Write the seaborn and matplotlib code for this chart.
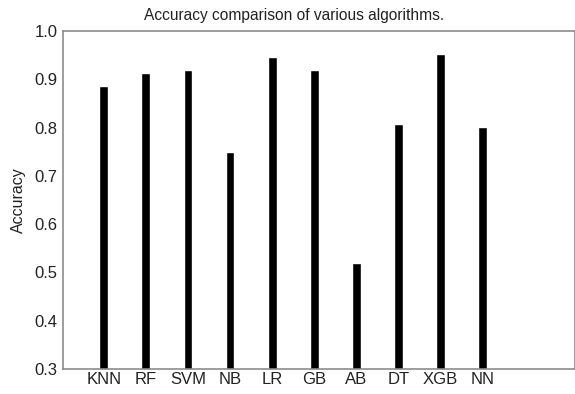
import matplotlib
matplotlib.use("Agg")
import matplotlib.pyplot as plt
import seaborn as sns
import pandas as pd

# Model accuracies
algorithms = ["KNN", "RF", "SVM", "NB", "LR", "GB", "AB", "DT", "XGB", "NN"]
accuracy = [0.887, 0.914, 0.919, 0.749, 0.947, 0.919, 0.520, 0.807, 0.952, 0.801]
y_ticks = [0.3, 0.4, 0.5, 0.6, 0.7, 0.8, 0.9, 1.0]

df = pd.DataFrame({"Algorithm": algorithms, "Accuracy": accuracy})

sns.set_style("white")
plt.rcParams["font.family"] = ["Liberation Sans", "DejaVu Sans"]

fig = plt.figure(figsize=(5.75, 3.94), dpi=100)
ax = fig.add_axes([63 / 575, 25 / 394, 1 - 63 / 575, (369 - 31) / 394])

sns.barplot(data=df, x="Algorithm", y="Accuracy", color="black",
            width=0.21, saturation=1, ax=ax)

ax.set_ylim(0.3, 1.0)
ax.set_xlim(-0.97, 11.2)
ax.set_yticks(y_ticks)
ax.set_yticklabels([f"{t:.1f}" for t in y_ticks])
ax.tick_params(axis="both", length=0, labelsize=12, colors="#222222", pad=4)
ax.tick_params(axis="x", pad=2)
ax.set_xlabel("")
ax.set_ylabel("Accuracy", fontsize=11.5, color="#222222", labelpad=6)

for side in ["top", "left", "bottom", "right"]:
    ax.spines[side].set_color("#8c8c8c")
    ax.spines[side].set_linewidth(1.2)

ax.set_title("Accuracy comparison of various algorithms.", fontsize=11.2,
             color="#222222", x=(294 - 63) / 512, pad=8)

fig.savefig("out.png", dpi=100)
